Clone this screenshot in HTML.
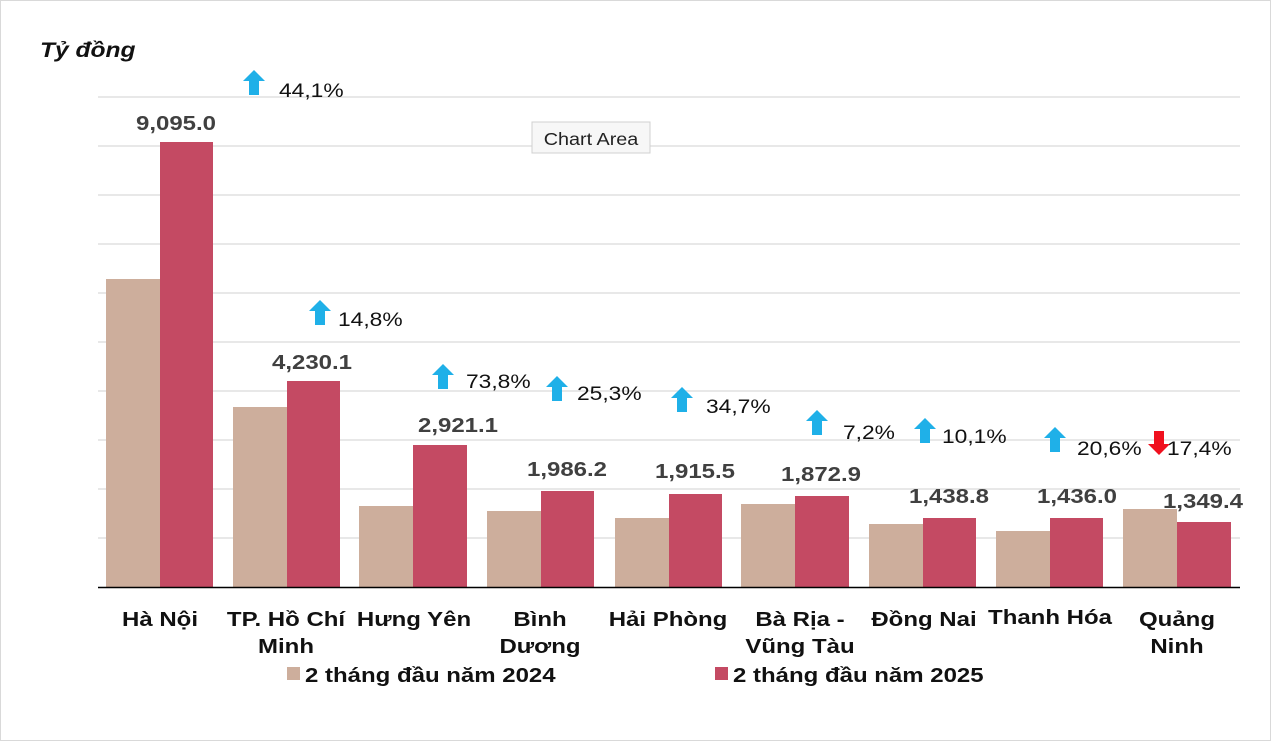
<!DOCTYPE html>
<html><head><meta charset="utf-8"><style>
body{margin:0;background:#fff;width:1280px;height:747px;overflow:hidden}
svg text{font-family:"Liberation Sans",Arial,sans-serif}
</style></head><body>
<svg width="1280" height="747" viewBox="0 0 1280 747">
<rect x="0.5" y="0.5" width="1270" height="740" fill="#fff" stroke="#d9d9d9"/>
<g transform="translate(40,57) scale(1.17,1)"><text font-size="21" font-weight="bold" font-style="italic" fill="#111">Tỷ đồng</text></g>
<g stroke="#d9d9d9" stroke-width="1.3">
<line x1="98" x2="1240" y1="97" y2="97"/><line x1="98" x2="1240" y1="146" y2="146"/>
<line x1="98" x2="1240" y1="195" y2="195"/><line x1="98" x2="1240" y1="244" y2="244"/>
<line x1="98" x2="1240" y1="293" y2="293"/><line x1="98" x2="1240" y1="342" y2="342"/>
<line x1="98" x2="1240" y1="391" y2="391"/><line x1="98" x2="1240" y1="440" y2="440"/>
<line x1="98" x2="1240" y1="489" y2="489"/><line x1="98" x2="1240" y1="538" y2="538"/>
</g>
<g fill="#cdae9c">
<rect x="106" y="279" width="54" height="308"/>
<rect x="233" y="407" width="54" height="180"/>
<rect x="359" y="506" width="54" height="81"/>
<rect x="487" y="511" width="54" height="76"/>
<rect x="615" y="518" width="54" height="69"/>
<rect x="741" y="504" width="54" height="83"/>
<rect x="869" y="524" width="54" height="63"/>
<rect x="996" y="531" width="54" height="56"/>
<rect x="1123" y="509" width="54" height="78"/>
</g>
<g fill="#c44a63">
<rect x="160" y="142" width="53" height="445"/>
<rect x="287" y="381" width="53" height="206"/>
<rect x="413" y="445" width="54" height="142"/>
<rect x="541" y="491" width="53" height="96"/>
<rect x="669" y="494" width="53" height="93"/>
<rect x="795" y="496" width="54" height="91"/>
<rect x="923" y="518" width="53" height="69"/>
<rect x="1050" y="518" width="53" height="69"/>
<rect x="1177" y="522" width="54" height="65"/>
</g>
<line x1="98" x2="1240" y1="587.5" y2="587.5" stroke="#000" stroke-width="1.5"/>
<g font-size="20" font-weight="bold" fill="#404040" text-anchor="middle">
<g transform="translate(176,130) scale(1.2,1)"><text>9,095.0</text></g>
<g transform="translate(312,369) scale(1.2,1)"><text>4,230.1</text></g>
<g transform="translate(458,432) scale(1.2,1)"><text>2,921.1</text></g>
<g transform="translate(567,476) scale(1.2,1)"><text>1,986.2</text></g>
<g transform="translate(695,478) scale(1.2,1)"><text>1,915.5</text></g>
<g transform="translate(821,481) scale(1.2,1)"><text>1,872.9</text></g>
<g transform="translate(949,503) scale(1.2,1)"><text>1,438.8</text></g>
<g transform="translate(1077,503) scale(1.2,1)"><text>1,436.0</text></g>
<g transform="translate(1203,508) scale(1.2,1)"><text>1,349.4</text></g>
</g>
<g fill="#1fb0e8">
<path d="M254,70 l11,11 h-6 v14 h-10 v-14 h-6z"/>
<path d="M320,300 l11,11 h-6 v14 h-10 v-14 h-6z"/>
<path d="M443,364 l11,11 h-6 v14 h-10 v-14 h-6z"/>
<path d="M557,376 l11,11 h-6 v14 h-10 v-14 h-6z"/>
<path d="M682,387 l11,11 h-6 v14 h-10 v-14 h-6z"/>
<path d="M817,410 l11,11 h-6 v14 h-10 v-14 h-6z"/>
<path d="M925,418 l11,11 h-6 v14 h-10 v-14 h-6z"/>
<path d="M1055,427 l11,11 h-6 v14 h-10 v-14 h-6z"/>
</g>
<path d="M1159,455 l-11,-11 h6 v-13 h10 v13 h6z" fill="#f0101e"/>
<g font-size="19" fill="#111">
<g transform="translate(279,97) scale(1.2,1)"><text>44,1%</text></g>
<g transform="translate(338,326) scale(1.2,1)"><text>14,8%</text></g>
<g transform="translate(466,388) scale(1.2,1)"><text>73,8%</text></g>
<g transform="translate(577,400) scale(1.2,1)"><text>25,3%</text></g>
<g transform="translate(706,413) scale(1.2,1)"><text>34,7%</text></g>
<g transform="translate(843,439) scale(1.2,1)"><text>7,2%</text></g>
<g transform="translate(942,443) scale(1.2,1)"><text>10,1%</text></g>
<g transform="translate(1077,455) scale(1.2,1)"><text>20,6%</text></g>
<g transform="translate(1167,455) scale(1.2,1)"><text>17,4%</text></g>
</g>
<g font-size="20" font-weight="bold" fill="#111" text-anchor="middle">
<g transform="translate(160,626) scale(1.2,1)"><text>Hà Nội</text></g>
<g transform="translate(286,626) scale(1.2,1)"><text>TP. Hồ Chí</text></g>
<g transform="translate(286,653) scale(1.2,1)"><text>Minh</text></g>
<g transform="translate(414,626) scale(1.2,1)"><text>Hưng Yên</text></g>
<g transform="translate(540,626) scale(1.2,1)"><text>Bình</text></g>
<g transform="translate(540,653) scale(1.2,1)"><text>Dương</text></g>
<g transform="translate(668,626) scale(1.2,1)"><text>Hải Phòng</text></g>
<g transform="translate(800,626) scale(1.2,1)"><text>Bà Rịa -</text></g>
<g transform="translate(800,653) scale(1.2,1)"><text>Vũng Tàu</text></g>
<g transform="translate(924,626) scale(1.2,1)"><text>Đồng Nai</text></g>
<g transform="translate(1050,624) scale(1.2,1)"><text>Thanh Hóa</text></g>
<g transform="translate(1177,626) scale(1.2,1)"><text>Quảng</text></g>
<g transform="translate(1177,653) scale(1.2,1)"><text>Ninh</text></g>
</g>
<rect x="287" y="667" width="13" height="13" fill="#cdae9c"/>
<g transform="translate(305,682) scale(1.2,1)"><text font-size="20" font-weight="bold" fill="#111">2 tháng đầu năm 2024</text></g>
<rect x="715" y="667" width="13" height="13" fill="#c44a63"/>
<g transform="translate(733,682) scale(1.2,1)"><text font-size="20" font-weight="bold" fill="#111">2 tháng đầu năm 2025</text></g>
<rect x="532" y="122" width="118" height="31" fill="#f7f7f7" stroke="#d0d0d0"/>
<g transform="translate(591,145) scale(1.1,1)"><text font-size="18" fill="#222" text-anchor="middle">Chart Area</text></g>
</svg>
</body></html>
